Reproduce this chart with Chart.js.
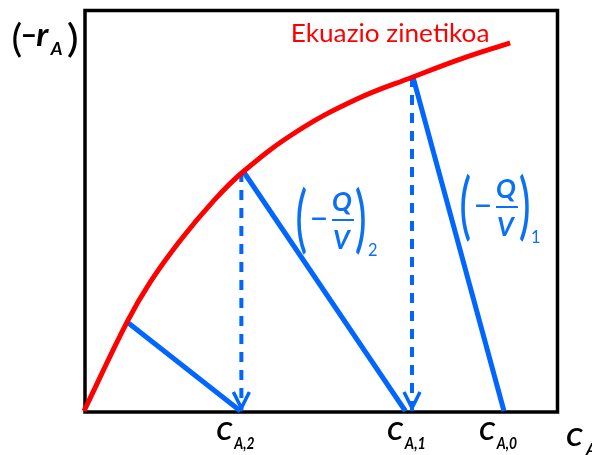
<!DOCTYPE html>
<html>
<head>
<meta charset="utf-8">
<script src="https://cdn.jsdelivr.net/npm/chart.js@4"></script>
<style>
  body { margin: 0; background: #fff; }
  #wrap { width: 592px; height: 455px; }
</style>
</head>
<body>
<div id="wrap"><canvas id="chart" width="592" height="455"></canvas></div>
<script>
// Kinetic curve (-rA vs CA)
const curveX = [0, 0.91, 1.39, 2.03, 2.72, 3.35, 4.49, 5.76, 6.94, 8.0, 8.99];
const curveY = [0, 2.22, 3.2, 4.25, 5.22, 5.96, 6.97, 7.78, 8.33, 8.80, 9.18];

// Operating lines (-Q/V) of each stage: from the axis up to the curve
const opStartX = [8.86, 6.78, 3.30];
const opEndX = [6.94, 3.37, 0.91];
const opEndY = [8.33, 5.96, 2.22];

// Dashed drops from the curve down to the next outlet concentration
const dropX = [6.92, 3.32];
const dropY = [8.33, 5.96];

// Concentration labels on the axis
const cLabelX = [8.86, 6.92, 3.32];
const cLabelSub = ['A,0', 'A,1', 'A,2'];

const RED = '#ff0000';
const BLUE = '#0066ff';
const BLUE_TEXT = '#0a70f5';

const datasets = [{
    data: curveX.map((x, i) => ({ x: x, y: curveY[i] })),
    borderColor: RED,
    borderWidth: 5,
    pointRadius: 0,
    tension: 0.4,
    clip: false
}];

opStartX.forEach((x, i) => {
    datasets.push({
        data: [{ x: x, y: 0 }, { x: opEndX[i], y: opEndY[i] }],
        borderColor: BLUE,
        borderWidth: 5,
        pointRadius: 0,
        clip: false
    });
});

dropX.forEach((x, i) => {
    datasets.push({
        data: [{ x: x, y: dropY[i] }, { x: x, y: 0 }],
        borderColor: BLUE,
        borderWidth: 4,
        borderDash: [10, 8],
        pointRadius: 0,
        clip: false
    });
});

// Fit the ink of a text into a pixel box
function fitBox(ctx, text, style, l, t, r, b) {
    ctx.font = style + ' 100px Lato';
    const m = ctx.measureText(text);
    const w = m.actualBoundingBoxLeft + m.actualBoundingBoxRight;
    const h = m.actualBoundingBoxAscent + m.actualBoundingBoxDescent;
    ctx.save();
    ctx.translate(l, t);
    ctx.scale((r - l) / w, (b - t) / h);
    ctx.fillText(text, m.actualBoundingBoxLeft, m.actualBoundingBoxAscent);
    ctx.restore();
}

// Text on a baseline, sized by cap height, optionally squeezed to a width
function putText(ctx, text, style, l, base, cap, width) {
    ctx.font = style + ' 100px Lato';
    const size = 100 * cap / ctx.measureText('H').actualBoundingBoxAscent;
    ctx.font = style + ' ' + size + 'px Lato';
    const m = ctx.measureText(text);
    const w = m.actualBoundingBoxLeft + m.actualBoundingBoxRight;
    const sx = width ? width / w : 1;
    ctx.save();
    ctx.translate(l, base);
    ctx.scale(sx, 1);
    ctx.fillText(text, m.actualBoundingBoxLeft, 0);
    ctx.restore();
}

// (-Q/V)_n block, x0/y0 = top left of the opening bracket
function drawQV(ctx, x0, y0, sub) {
    ctx.fillStyle = BLUE_TEXT;
    ctx.strokeStyle = BLUE_TEXT;
    fitBox(ctx, '(', 'normal', x0, y0, x0 + 9, y0 + 70);
    fitBox(ctx, '\u2212', 'normal', x0 + 15, y0 + 32.5, x0 + 29, y0 + 35);
    putText(ctx, 'Q', 'italic bold', x0 + 36, y0 + 26, 19);
    ctx.lineWidth = 2;
    ctx.beginPath();
    ctx.moveTo(x0 + 35, y0 + 35);
    ctx.lineTo(x0 + 57, y0 + 35);
    ctx.stroke();
    putText(ctx, 'V', 'italic bold', x0 + 37, y0 + 64, 18.5);
    fitBox(ctx, ')', 'normal', x0 + 59, y0, x0 + 68, y0 + 70);
    putText(ctx, sub, 'normal', x0 + 71, y0 + 71, 12);
}

const annotations = {
    id: 'annotations',
    beforeDatasetsDraw(chart) {
        const ctx = chart.ctx;
        const a = chart.chartArea;
        ctx.save();
        ctx.strokeStyle = '#000';
        ctx.lineWidth = 3.5;
        ctx.strokeRect(a.left + 1, a.top + 0.5, a.right - a.left - 1.5, a.bottom - a.top + 0.5);
        ctx.restore();
    },
    afterDatasetsDraw(chart) {
        const ctx = chart.ctx;
        const xs = chart.scales.x;
        const ys = chart.scales.y;
        ctx.save();
        ctx.textAlign = 'left';
        ctx.textBaseline = 'alphabetic';

        // arrow heads at the bottom of the dashed drops
        ctx.strokeStyle = BLUE;
        ctx.lineWidth = 3.5;
        dropX.forEach(x => {
            const px = xs.getPixelForValue(x);
            const py = ys.getPixelForValue(0) - 3;
            ctx.beginPath();
            ctx.moveTo(px - 8, py - 16);
            ctx.lineTo(px, py);
            ctx.lineTo(px + 8, py - 16);
            ctx.stroke();
        });

        // curve name
        ctx.fillStyle = RED;
        fitBox(ctx, 'Ekuazio zinetikoa', 'normal', 293, 23.5, 488, 42);

        // y axis title (-rA)
        ctx.fillStyle = '#000';
        fitBox(ctx, '(', 'normal', 13, 22, 21, 58);
        fitBox(ctx, '\u2212', 'normal', 23, 33.5, 35, 36.5);
        fitBox(ctx, 'r', 'italic bold', 37, 29.3, 49.3, 45.7);
        fitBox(ctx, 'A', 'italic bold', 50, 42.7, 62, 55);
        fitBox(ctx, ')', 'normal', 68, 22, 77, 58);

        // concentration labels
        cLabelX.forEach((x, i) => {
            const l = xs.getPixelForValue(x) - 24;
            fitBox(ctx, 'C', 'italic bold', l, 422, l + 15.5, 440);
            putText(ctx, cLabelSub[i], 'italic bold', l + 16, 449, 12.5, 21);
        });
        // axis title CA, cut by the edge
        fitBox(ctx, 'C', 'italic bold', 567, 427.5, 583, 446);
        putText(ctx, 'A', 'italic bold', 585, 455, 12.5);

        drawQV(ctx, 297, 185, '2');
        drawQV(ctx, 461, 172, '1');
        ctx.restore();
    }
};

new Chart(document.getElementById('chart'), {
    type: 'line',
    data: { datasets: datasets },
    options: {
        responsive: false,
        animation: false,
        layout: { padding: { left: 84, top: 10, right: 34, bottom: 44 } },
        plugins: { legend: { display: false }, tooltip: { enabled: false } },
        scales: {
            x: { type: 'linear', min: 0, max: 10, display: false },
            y: { type: 'linear', min: 0, max: 10, display: false }
        }
    },
    plugins: [annotations]
});
</script>
</body>
</html>
